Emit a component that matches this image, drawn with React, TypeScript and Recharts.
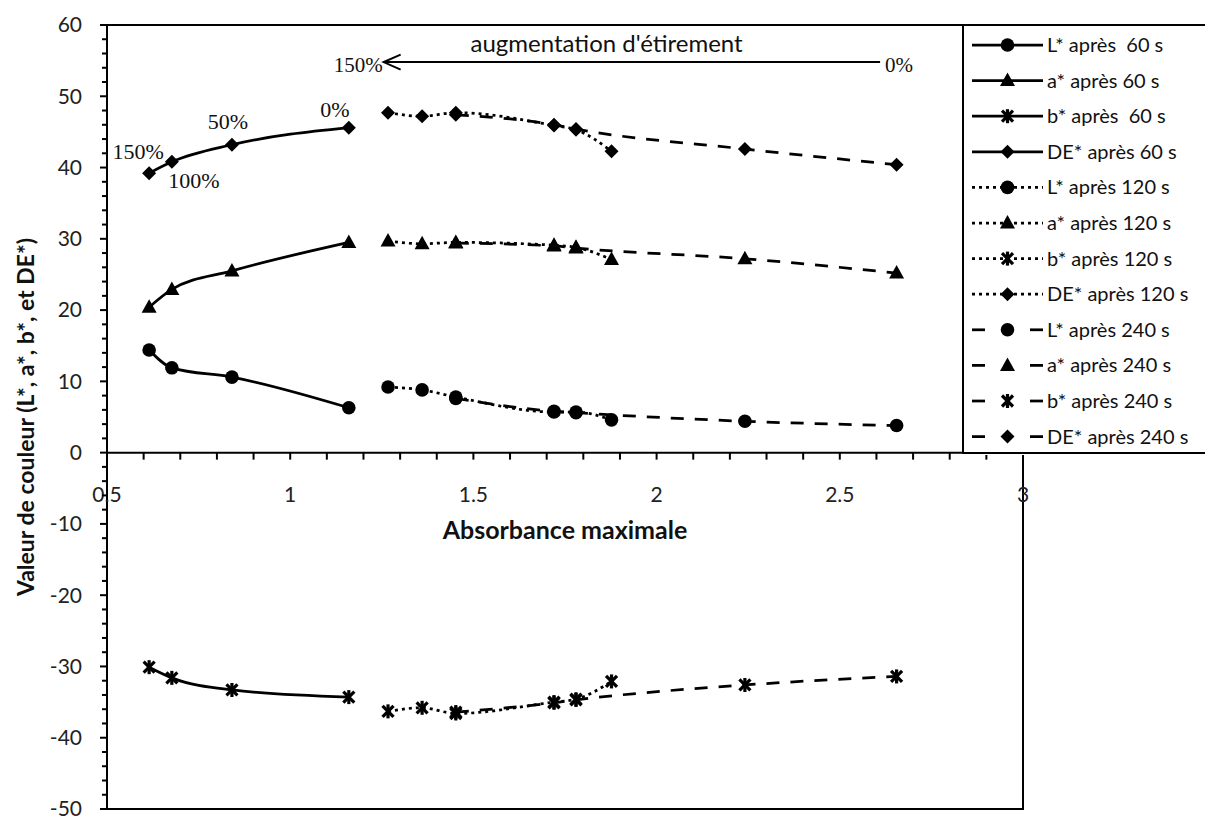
import {
  LineChart,
  Line,
  XAxis,
  YAxis,
  ReferenceArea,
  ReferenceLine,
  ReferenceDot,
  Legend,
} from "recharts";

const FONT = "Lato, 'Open Sans', sans-serif";
const SERIF = "'Liberation Serif', serif";

// absorbance maximale (axe x) pour chaque temps
const x60 = [0.615, 0.677, 0.841, 1.16];
const x120 = [1.267, 1.36, 1.452, 1.72, 1.78, 1.877];
const x240 = [1.452, 1.72, 1.78, 2.241, 2.655];

// valeurs de couleur
const L60 = [14.4, 11.9, 10.6, 6.3];
const a60 = [20.4, 22.9, 25.5, 29.5];
const b60 = [-30.1, -31.6, -33.3, -34.3];
const DE60 = [39.2, 40.8, 43.2, 45.6];

const L120 = [9.2, 8.8, 7.8, 5.7, 5.7, 4.6];
const a120 = [29.7, 29.3, 29.5, 29.1, 28.8, 27.1];
const b120 = [-36.3, -35.8, -36.6, -35.0, -34.6, -32.1];
const DE120 = [47.7, 47.2, 47.7, 45.9, 45.3, 42.3];

const L240 = [7.6, 5.8, 5.6, 4.4, 3.8];
const a240 = [29.4, 29.0, 28.7, 27.2, 25.2];
const b240 = [-36.4, -35.1, -34.7, -32.6, -31.4];
const DE240 = [47.4, 46.0, 45.4, 42.6, 40.4];

// annotations
const stretchLabels60 = ["150%", "100%", "50%", "0%"];
const arrowTitle = "augmentation d'étirement";
const arrowEnds = ["150%", "0%"];
const arrowX = [1.255, 2.61];
const arrowY = 54.8;

// axes
const xTitle = "Absorbance maximale";
const yTitle = "Valeur de couleur (L*, a*, b*, et DE*)";
const xMajorTicks = [0.5, 1, 1.5, 2, 2.5, 3];
const xMinorTicks = Array.from({ length: 26 }, (_, i) => +(0.5 + i * 0.1).toFixed(1));
const yTicks = Array.from({ length: 56 }, (_, i) => -50 + i * 2);

type Kind = "circle" | "triangle" | "star" | "diamond";
type Dash = "solid" | "dotted" | "dashed";

const series: { name: string; xs: number[]; ys: number[]; kind: Kind; dash: Dash }[] = [
  { name: "L* après  60 s", xs: x60, ys: L60, kind: "circle", dash: "solid" },
  { name: "a* après 60 s", xs: x60, ys: a60, kind: "triangle", dash: "solid" },
  { name: "b* après  60 s", xs: x60, ys: b60, kind: "star", dash: "solid" },
  { name: "DE* après 60 s", xs: x60, ys: DE60, kind: "diamond", dash: "solid" },
  { name: "L* après 120 s", xs: x120, ys: L120, kind: "circle", dash: "dotted" },
  { name: "a* après 120 s", xs: x120, ys: a120, kind: "triangle", dash: "dotted" },
  { name: "b* après 120 s", xs: x120, ys: b120, kind: "star", dash: "dotted" },
  { name: "DE* après 120 s", xs: x120, ys: DE120, kind: "diamond", dash: "dotted" },
  { name: "L* après 240 s", xs: x240, ys: L240, kind: "circle", dash: "dashed" },
  { name: "a* après 240 s", xs: x240, ys: a240, kind: "triangle", dash: "dashed" },
  { name: "b* après 240 s", xs: x240, ys: b240, kind: "star", dash: "dashed" },
  { name: "DE* après 240 s", xs: x240, ys: DE240, kind: "diamond", dash: "dashed" },
];

const dashes: Record<Dash, string | undefined> = {
  solid: undefined,
  dotted: "3 4",
  dashed: "13 11",
};

// décalage des étiquettes % par rapport aux points DE* 60 s
const labelOffsets = [
  [-11, -22],
  [22, 18],
  [-4, -23],
  [-14, -18],
];

const toPoints = (xs: number[], ys: number[]) => xs.map((x, i) => ({ x, y: ys[i] }));

function Marker({ kind, cx, cy }: { kind: Kind; cx: number; cy: number }) {
  switch (kind) {
    case "circle":
      return <circle cx={cx} cy={cy} r={6.8} fill="#000" />;
    case "triangle":
      return <path d={`M${cx},${cy - 8}L${cx + 7.5},${cy + 5.5}L${cx - 7.5},${cy + 5.5}Z`} fill="#000" />;
    case "diamond":
      return <path d={`M${cx},${cy - 7}L${cx + 7},${cy}L${cx},${cy + 7}L${cx - 7},${cy}Z`} fill="#000" />;
    default:
      return (
        <g stroke="#000" strokeWidth={3.2}>
          <line x1={cx - 5.5} y1={cy - 5.5} x2={cx + 5.5} y2={cy + 5.5} />
          <line x1={cx + 5.5} y1={cy - 5.5} x2={cx - 5.5} y2={cy + 5.5} />
          <line x1={cx} y1={cy - 7} x2={cx} y2={cy + 7} />
        </g>
      );
  }
}

function YTick(props: any) {
  const { x, y, payload } = props;
  const major = payload.value % 10 === 0;
  return (
    <g>
      <line x1={x - (major ? 7 : 5)} x2={x} y1={y} y2={y} stroke="#000" strokeWidth={2} />
      {major && (
        <text x={x - 25} y={y} dy="0.35em" textAnchor="end" fontSize={21} fontFamily={FONT} fill="#222">
          {payload.value}
        </text>
      )}
    </g>
  );
}

function YTitle(props: any) {
  const vb = props.viewBox || {};
  const cx = vb.x - 21;
  const cy = vb.y + vb.height / 2;
  return (
    <text
      x={cx}
      y={cy}
      transform={`rotate(-90 ${cx} ${cy})`}
      textAnchor="middle"
      dy="0.35em"
      fontSize={23}
      fontWeight="bold"
      fontFamily={FONT}
      fill="#111"
    >
      {yTitle}
    </text>
  );
}

function LegendBox() {
  const rowH = 35.6;
  return (
    <svg width={243} height={431} style={{ display: "block" }}>
      <rect x={0} y={0} width={243} height={431} fill="#fff" />
      <path d="M1,430V1H243M1,429H243" stroke="#000" strokeWidth={2} fill="none" />
      {series.map((s, i) => {
        const cy = 21 + rowH * i;
        return (
          <g key={s.name}>
            {s.dash === "dashed" ? (
              <g stroke="#000" strokeWidth={2.75}>
                <line x1={10} x2={23} y1={cy} y2={cy} />
                <line x1={68} x2={81} y1={cy} y2={cy} />
              </g>
            ) : (
              <line x1={10} x2={81} y1={cy} y2={cy} stroke="#000" strokeWidth={2.75} strokeDasharray={dashes[s.dash]} />
            )}
            <Marker kind={s.kind} cx={45.5} cy={cy} />
            <text x={85} y={cy} dy="0.35em" fontSize={20} fontFamily={FONT} fill="#111" style={{ whiteSpace: "pre" }}>
              {s.name}
            </text>
          </g>
        );
      })}
    </svg>
  );
}

export default function App() {
  return (
    <div style={{ position: "absolute", left: 0, top: 0, width: 1205, height: 819, background: "#fff" }}>
      <LineChart width={1205} height={819} margin={{ top: 25, right: 182, bottom: 10, left: 47 }}>
        <XAxis type="number" dataKey="x" domain={[0.5, 3]} allowDataOverflow hide />
        <YAxis
          type="number"
          domain={[-50, 60]}
          allowDataOverflow
          ticks={yTicks}
          interval={0}
          width={60}
          tickSize={0}
          tickMargin={0}
          tickLine={false}
          axisLine={{ stroke: "#000", strokeWidth: 2 }}
          tick={<YTick />}
          label={(p: any) => <YTitle {...p} />}
        />
        <ReferenceArea x1={0.5} x2={3} y1={-50} y2={60} fill="none" fillOpacity={0} stroke="#000" strokeWidth={2} ifOverflow="visible" />
        <ReferenceLine y={0} stroke="#000" strokeWidth={2} ifOverflow="visible" />
        {xMinorTicks.map((v) => (
          <ReferenceDot
            key={`xm${v}`}
            x={v}
            y={0}
            ifOverflow="visible"
            shape={(p: any) => <line x1={p.cx} x2={p.cx} y1={p.cy} y2={p.cy + 7} stroke="#000" strokeWidth={2} />}
          />
        ))}
        {xMajorTicks.map((v) => (
          <ReferenceDot
            key={`xl${v}`}
            x={v}
            y={0}
            ifOverflow="visible"
            shape={(p: any) => (
              <text x={p.cx} y={p.cy + 42} dy="0.35em" textAnchor="middle" fontSize={21} fontFamily={FONT} fill="#222">
                {v}
              </text>
            )}
          />
        ))}
        <ReferenceDot
          x={(xMajorTicks[0] + xMajorTicks[xMajorTicks.length - 1]) / 2}
          y={0}
          ifOverflow="visible"
          shape={(p: any) => (
            <text x={p.cx} y={p.cy + 78} dy="0.35em" textAnchor="middle" fontSize={25} fontWeight="bold" fontFamily={FONT} fill="#111">
              {xTitle}
            </text>
          )}
        />
        <ReferenceLine
          segment={[
            { x: arrowX[1], y: arrowY },
            { x: arrowX[0], y: arrowY },
          ]}
          ifOverflow="visible"
          shape={(p: any) => {
            const xr = Math.max(p.x1, p.x2);
            const xl = Math.min(p.x1, p.x2);
            const y = p.y1;
            return (
              <g>
                <line x1={xl} x2={xr} y1={y} y2={y} stroke="#000" strokeWidth={2} />
                <path d={`M${xl + 17},${y - 7.5}L${xl},${y}L${xl + 17},${y + 7.5}`} stroke="#000" strokeWidth={2} fill="none" />
                <text x={xl - 1} y={y + 3} dy="0.35em" textAnchor="end" fontSize={21} fontFamily={SERIF} fill="#111">
                  {arrowEnds[0]}
                </text>
                <text x={xr + 5} y={y + 3} dy="0.35em" textAnchor="start" fontSize={21} fontFamily={SERIF} fill="#111">
                  {arrowEnds[1]}
                </text>
                <text x={xl + 223} y={y - 10} textAnchor="middle" fontSize={24} fontFamily={FONT} fill="#111">
                  {arrowTitle}
                </text>
              </g>
            );
          }}
        />
        {series.map((s) => (
          <Line
            key={s.name}
            name={s.name}
            data={toPoints(s.xs, s.ys)}
            dataKey="y"
            type="monotone"
            stroke="#000"
            strokeWidth={2.75}
            strokeDasharray={dashes[s.dash]}
            dot={(p: any) => <Marker key={`${s.name}-${p.index}`} kind={s.kind} cx={p.cx} cy={p.cy} />}
            activeDot={false}
            legendType="none"
            isAnimationActive={false}
          />
        ))}
        {stretchLabels60.map((t, i) => (
          <ReferenceDot
            key={`lab${t}`}
            x={x60[i]}
            y={DE60[i]}
            ifOverflow="visible"
            shape={(p: any) => (
              <text
                x={p.cx + labelOffsets[i][0]}
                y={p.cy + labelOffsets[i][1]}
                dy="0.35em"
                textAnchor="middle"
                fontSize={22}
                fontFamily={SERIF}
                fill="#111"
              >
                {t}
              </text>
            )}
          />
        ))}
        <Legend
          layout="vertical"
          align="center"
          verticalAlign="middle"
          content={() => <LegendBox />}
          wrapperStyle={{ left: 962, top: 24, width: 243, height: 431 }}
        />
      </LineChart>
    </div>
  );
}
